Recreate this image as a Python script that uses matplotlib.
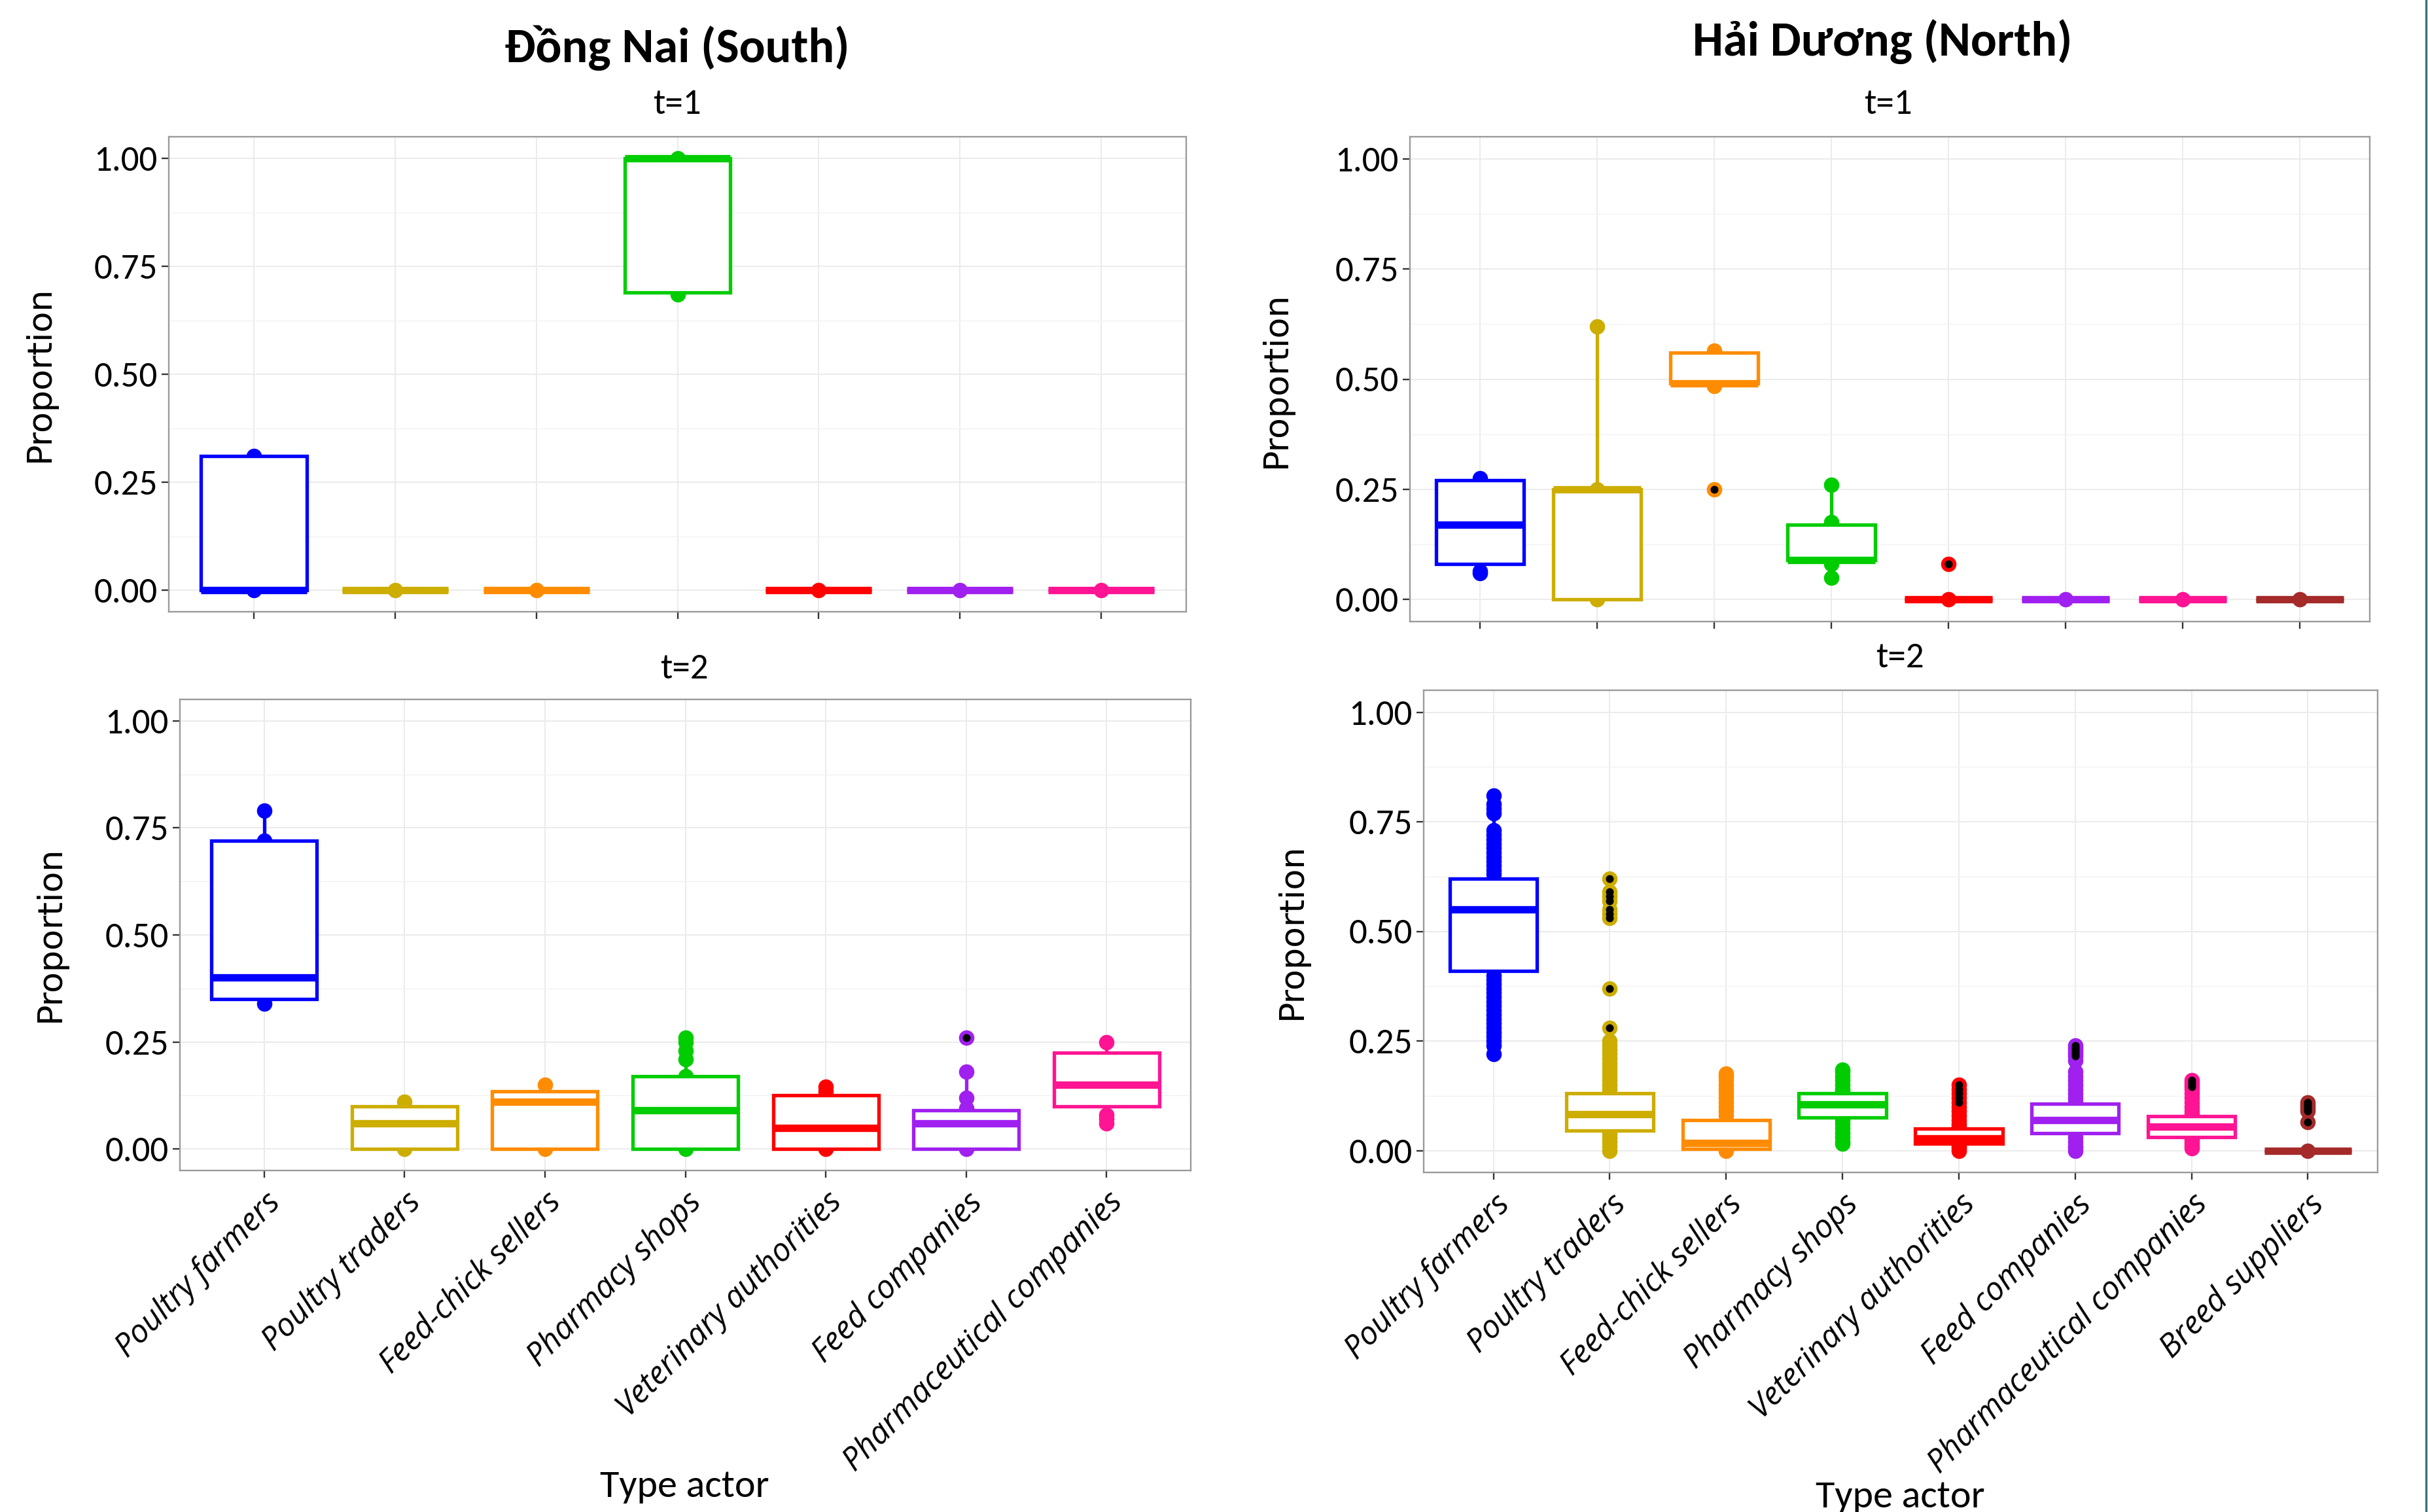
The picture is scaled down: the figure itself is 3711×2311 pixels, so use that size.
import numpy as np
import matplotlib
matplotlib.use("Agg")
import matplotlib.pyplot as plt
from matplotlib import font_manager
from matplotlib.lines import Line2D


def pick(*names):
    have = {f.name for f in font_manager.fontManager.ttflist}
    for n in names:
        if n in have:
            return n
    return "DejaVu Sans"


F_TXT = pick("Carlito", "Lato", "Liberation Sans")
F_LAB = pick("DejaVu Sans")
F_TICKX = pick("Open Sans", "DejaVu Sans")

# ---------------- data ----------------
actors = ["Poultry farmers", "Poultry traders", "Feed-chick sellers", "Pharmacy shops",
          "Veterinary authorities", "Feed companies", "Pharmaceutical companies", "Breed suppliers"]
colores = ["#0000FF", "#CDAD00", "#FF8C00", "#00CD00", "#FF0000", "#A020F0", "#FF1493", "#A52A2A"]

# Dong Nai (South), t=1
s1_q1 = [0, 0, 0, 0.69, 0, 0, 0]
s1_med = [0, 0, 0, 1.00, 0, 0, 0]
s1_q3 = [0.31, 0, 0, 1.00, 0, 0, 0]
s1_lo = [0, 0, 0, 0.69, 0, 0, 0]
s1_hi = [0.31, 0, 0, 1.00, 0, 0, 0]
s1_pts = [[0, 0.31], [0], [0], [0.685, 1.0], [0], [0], [0]]
s1_out = [[], [], [], [], [], [], []]

# Dong Nai (South), t=2
s2_q1 = [0.35, 0, 0, 0, 0, 0, 0.10]
s2_med = [0.40, 0.06, 0.11, 0.09, 0.05, 0.06, 0.15]
s2_q3 = [0.72, 0.10, 0.135, 0.17, 0.125, 0.09, 0.225]
s2_lo = [0.34, 0, 0, 0, 0, 0, 0.06]
s2_hi = [0.79, 0.11, 0.15, 0.26, 0.145, 0.18, 0.25]
s2_pts = [[0.34, 0.72, 0.79], [0, 0.11], [0, 0.15], [0, 0.17, 0.21, 0.23, 0.25, 0.26],
          [0, 0.135, 0.145], [0, 0.095, 0.12, 0.18, 0.26], [0.06, 0.07, 0.08, 0.25]]
s2_out = [[], [], [], [], [], [0.26], []]

# Hai Duong (North), t=1
n1_q1 = [0.08, 0, 0.49, 0.09, 0, 0, 0, 0]
n1_med = [0.17, 0.25, 0.49, 0.09, 0, 0, 0, 0]
n1_q3 = [0.27, 0.25, 0.56, 0.17, 0, 0, 0, 0]
n1_lo = [0.06, 0, 0.485, 0.05, 0, 0, 0, 0]
n1_hi = [0.275, 0.62, 0.565, 0.26, 0, 0, 0, 0]
n1_pts = [[0.06, 0.065, 0.275], [0, 0.25, 0.62], [0.485, 0.565, 0.25], [0.05, 0.08, 0.175, 0.26],
          [0, 0.08], [0], [0], [0]]
n1_out = [[], [], [0.25], [], [0.08], [], [], []]

# Hai Duong (North), t=2
n2_q1 = [0.41, 0.045, 0.003, 0.075, 0.015, 0.04, 0.03, 0]
n2_med = [0.55, 0.083, 0.017, 0.105, 0.028, 0.07, 0.055, 0]
n2_q3 = [0.62, 0.13, 0.07, 0.13, 0.05, 0.107, 0.078, 0]
n2_lo = [0.22, 0, 0, 0.015, 0, 0, 0.005, 0]
n2_hi = [0.81, 0.25, 0.175, 0.185, 0.10, 0.205, 0.14, 0]
n2_pts = [
    [0.22, 0.24, 0.25, 0.26, 0.27, 0.28, 0.29, 0.30, 0.31, 0.32, 0.33, 0.34, 0.35, 0.36, 0.37,
     0.38, 0.39, 0.40, 0.63, 0.64, 0.65, 0.66, 0.67, 0.68, 0.69, 0.70, 0.71, 0.72, 0.73,
     0.77, 0.78, 0.79, 0.81],
    [0, 0.01, 0.02, 0.03, 0.04, 0.14, 0.15, 0.16, 0.17, 0.18, 0.19, 0.20, 0.21, 0.22, 0.23,
     0.24, 0.25, 0.28, 0.37, 0.53, 0.54, 0.55, 0.57, 0.58, 0.59, 0.62],
    [0, 0.08, 0.09, 0.10, 0.11, 0.12, 0.13, 0.14, 0.15, 0.16, 0.17, 0.175],
    [0.015, 0.02, 0.03, 0.04, 0.05, 0.06, 0.07, 0.135, 0.14, 0.15, 0.16, 0.17, 0.18, 0.185],
    [0, 0.005, 0.01, 0.055, 0.06, 0.07, 0.08, 0.09, 0.10, 0.11, 0.12, 0.13, 0.14, 0.15],
    [0, 0.005, 0.01, 0.02, 0.03, 0.11, 0.12, 0.13, 0.14, 0.15, 0.16, 0.17, 0.18, 0.205,
     0.215, 0.22, 0.225, 0.23, 0.235, 0.24],
    [0.005, 0.01, 0.015, 0.02, 0.025, 0.085, 0.09, 0.10, 0.11, 0.12, 0.13, 0.14, 0.145, 0.15,
     0.155, 0.16],
    [0, 0.065, 0.09, 0.095, 0.10, 0.105, 0.11],
]
n2_out = [[], [0.28, 0.37, 0.53, 0.54, 0.55, 0.57, 0.58, 0.59, 0.62], [], [],
          [0.11, 0.12, 0.13, 0.14, 0.15], [0.215, 0.22, 0.225, 0.23, 0.235, 0.24],
          [0.145, 0.15, 0.155, 0.16], [0.065, 0.09, 0.095, 0.10, 0.105, 0.11]]

W, H, DPI = 3711, 2311, 240


def dibujar_panel(ax, q1, med, q3, lo, hi, pts, outs, con_etiquetas):
    n = len(q1)
    pos = np.arange(1, n + 1)
    for i in range(n):
        ax.scatter(np.full(len(pts[i]), pos[i]), pts[i], s=50, color=colores[i],
                   linewidths=0, zorder=2)
    for i in range(n):
        st = dict(med=med[i], q1=q1[i], q3=q3[i], whislo=lo[i], whishi=hi[i], fliers=outs[i])
        art = ax.bxp([st], positions=[pos[i]], widths=0.75, patch_artist=True, showcaps=False,
                     boxprops=dict(facecolor="white", edgecolor=colores[i], linewidth=1.6,
                                   joinstyle="miter"),
                     medianprops=dict(color=colores[i], linewidth=3.4, solid_capstyle="butt"),
                     whiskerprops=dict(color=colores[i], linewidth=1.6),
                     flierprops=dict(marker="o", markerfacecolor="black", markeredgecolor="black",
                                     markersize=2.6, linestyle="none"),
                     manage_ticks=False)
        for w in art["whiskers"]:
            w.set_zorder(2.5)
        for b in art["boxes"]:
            b.set_zorder(3)
        for m in art["medians"]:
            m.set_zorder(4)
        for f in art["fliers"]:
            f.set_zorder(5)

    ax.set_xlim(0.4, n + 0.6)
    ax.set_ylim(-0.05, 1.05)
    ax.set_yticks([0, 0.25, 0.5, 0.75, 1.0])
    ax.set_yticklabels(["0.00", "0.25", "0.50", "0.75", "1.00"], fontfamily=F_TXT, fontsize=16.5)
    ax.set_yticks([0.125, 0.375, 0.625, 0.875], minor=True)
    ax.set_xticks(pos)
    if con_etiquetas:
        ax.set_xticklabels(actors[:n], rotation=45, ha="right", va="top", rotation_mode="anchor",
                           fontfamily=F_TICKX, fontstyle="italic", fontsize=14.6)
    else:
        ax.set_xticklabels([])
    ax.tick_params(axis="both", which="major", length=3.2, width=0.7, color="#333333", pad=2)
    ax.tick_params(axis="x", which="major", pad=4)
    ax.tick_params(axis="y", which="minor", length=0)
    ax.grid(True, which="major", color="#EBEBEB", linewidth=0.6, zorder=0)
    ax.grid(True, which="minor", axis="y", color="#F2F2F2", linewidth=0.4, zorder=0)
    ax.set_axisbelow(True)
    for s in ax.spines.values():
        s.set_color("#9A9A9A")
        s.set_linewidth(0.7)


fig = plt.figure(figsize=(W / DPI, H / DPI), dpi=DPI)


def caja(l, r, t, b):
    return [l / W, 1 - b / H, (r - l) / W, (b - t) / H]


ax_tl = fig.add_axes(caja(258, 1813, 209, 935))
ax_tr = fig.add_axes(caja(2155, 3622, 209, 950))
ax_bl = fig.add_axes(caja(275, 1820, 1069, 1789))
ax_br = fig.add_axes(caja(2176, 3634, 1055, 1792))

dibujar_panel(ax_tl, s1_q1, s1_med, s1_q3, s1_lo, s1_hi, s1_pts, s1_out, False)
dibujar_panel(ax_bl, s2_q1, s2_med, s2_q3, s2_lo, s2_hi, s2_pts, s2_out, True)
dibujar_panel(ax_tr, n1_q1, n1_med, n1_q3, n1_lo, n1_hi, n1_pts, n1_out, False)
dibujar_panel(ax_br, n2_q1, n2_med, n2_q3, n2_lo, n2_hi, n2_pts, n2_out, True)


def texto(x, y, s, **kw):
    fig.text(x / W, 1 - y / H, s, **kw)


texto(1035, 95, "Đồng Nai (South)", ha="center", va="baseline", fontfamily=F_TXT,
      fontweight="bold", fontsize=22.3)
texto(2877, 85, "Hải Dương (North)", ha="center", va="baseline", fontfamily=F_TXT,
      fontweight="bold", fontsize=22.3)
texto(1035, 174, "t=1", ha="center", va="baseline", fontfamily=F_TXT, fontsize=16.5)
texto(2886, 174, "t=1", ha="center", va="baseline", fontfamily=F_TXT, fontsize=16.5)
texto(1046, 1037, "t=2", ha="center", va="baseline", fontfamily=F_TXT, fontsize=16.5)
texto(2904, 1020, "t=2", ha="center", va="baseline", fontfamily=F_TXT, fontsize=16.5)
texto(1046, 2288, "Type actor", ha="center", va="baseline", fontfamily=F_TXT, fontsize=18)
texto(2904, 2304, "Type actor", ha="center", va="baseline", fontfamily=F_TXT, fontsize=18)
for (x, y) in [(61, 571), (1951, 580), (77, 1427), (1975, 1423)]:
    texto(x, y, "Proportion", ha="center", va="center", rotation=90, fontfamily=F_LAB,
          fontsize=15.7)

fig.add_artist(Line2D([3708 / W, 3708 / W], [0, 1], color="#3C6E7C", linewidth=1.0))

fig.savefig("out.png", dpi=DPI, facecolor="white")
